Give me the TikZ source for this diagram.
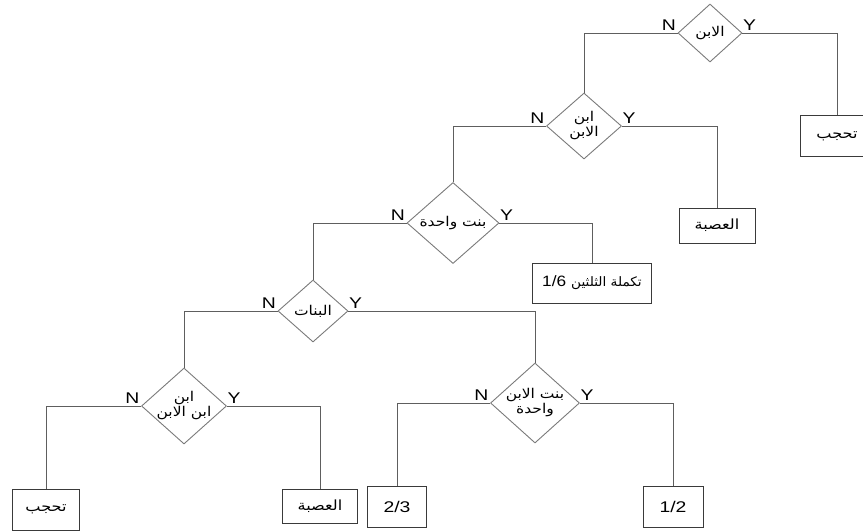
\documentclass[tikz,border=0pt]{standalone}
\usepackage{graphicx}
\usepackage{fontspec}
\setmainfont{Liberation Sans}
\newfontfamily\arabicfont[Script=Arabic]{DejaVu Sans}
\TeXXeTstate=1
\usetikzlibrary{shapes.geometric}
\definecolor{linec}{HTML}{5E5E5E}
\definecolor{diac}{HTML}{7A7A7A}
\definecolor{boxc}{HTML}{3A3A3A}
\newcommand{\ar}[1]{\scalebox{1.15}[1]{\arabicfont\beginR #1\endR}}
\newcommand{\la}[1]{\scalebox{1.25}[1]{#1}}
\tikzset{
  dec/.style={diamond, draw=diac, line width=0.9pt, inner sep=-4pt, align=center,
    font=\fontsize{13.5}{15}\selectfont},
  leaf/.style={rectangle, draw=boxc, line width=0.9pt, inner sep=0pt, align=center,
    font=\fontsize{14}{16}\selectfont},
  latin/.style={font=\fontsize{15.5}{17}\selectfont},
  conn/.style={draw=linec, line width=1pt},
  nlab/.style={anchor=south east, inner xsep=1.5pt, inner ysep=2.5pt, font=\fontsize{15.5}{17}\selectfont},
  ylab/.style={anchor=south west, inner xsep=0.5pt, inner ysep=2.5pt, font=\fontsize{15.5}{17}\selectfont},
}
\begin{document}
\begin{tikzpicture}[x=1pt, y=-1pt]
\useasboundingbox (0,0) rectangle (863,531);
% decisions
\node[dec, minimum width=64pt, minimum height=58pt] (d1) at (710,33) {\ar{الابن}};
\node[dec, minimum width=75pt, minimum height=66pt] (d2) at (584,126) {\ar{ابن}\\\ar{الابن}};
\node[dec, minimum width=92pt, minimum height=81pt] (d3) at (453,223) {\ar{بنت واحدة}};
\node[dec, minimum width=70pt, minimum height=62pt] (d4) at (313,311) {\ar{البنات}};
\node[dec, minimum width=85pt, minimum height=76pt] (d5) at (184,406) {\ar{ابن}\\\ar{ابن الابن}};
\node[dec, minimum width=89pt, minimum height=80pt] (d6) at (535,403) {\ar{بنت الابن}\\\ar{واحدة}};
% leaves
\node[leaf, minimum width=74pt, minimum height=41pt] (b1) at (837,136) {\ar{تحجب}};
\node[leaf, minimum width=76pt, minimum height=35pt] (b2) at (717,225.5) {\ar{العصبة}};
\node[leaf, minimum width=119pt, minimum height=40pt] (b3) at (592,283)
  {{\fontsize{15}{17}\selectfont\scalebox{1.15}[1]{1/6}}\hspace{5pt}{\fontsize{13}{15}\selectfont\scalebox{1.05}[1]{\arabicfont\beginR تكملة الثلثين\endR}}};
\node[leaf, minimum width=67pt, minimum height=41pt] (b4) at (46,509.5) {\ar{تحجب}};
\node[leaf, minimum width=75pt, minimum height=34pt] (b5) at (320,506) {\ar{العصبة}};
\node[leaf, latin, minimum width=59pt, minimum height=41pt] (b6) at (397,506.5) {\la{2/3}};
\node[leaf, latin, minimum width=60pt, minimum height=41pt] (b7) at (673,506.5) {\la{1/2}};
% connectors
\draw[conn] (d1.west) -| (d2.north);
\draw[conn] (d1.east) -| (b1.north);
\draw[conn] (d2.west) -| (d3.north);
\draw[conn] (d2.east) -| (b2.north);
\draw[conn] (d3.west) -| (d4.north);
\draw[conn] (d3.east) -| (b3.north);
\draw[conn] (d4.west) -| (d5.north);
\draw[conn] (d4.east) -| (d6.north);
\draw[conn] (d5.west) -| (b4.north);
\draw[conn] (d5.east) -| (b5.north);
\draw[conn] (d6.west) -| (b6.north);
\draw[conn] (d6.east) -| (b7.north);
% labels
\foreach \d in {d1,d2,d3,d4,d5,d6}{
  \node[nlab] (n\d) at (\d.west) {\la{N}};
  \node[ylab] (y\d) at (\d.east) {\la{Y}};
}
\end{tikzpicture}
\end{document}
